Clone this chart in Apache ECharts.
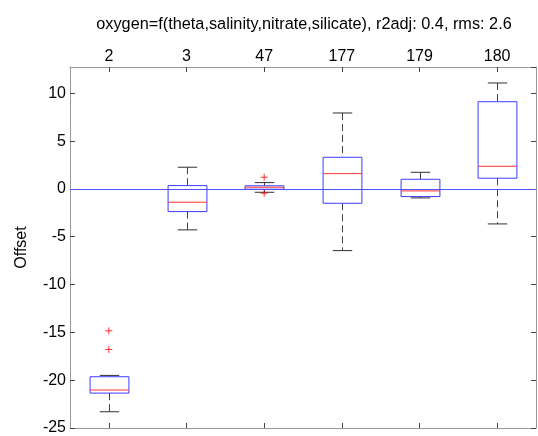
<!DOCTYPE html>
<html>
<head>
<meta charset="utf-8">
<script src="https://cdn.jsdelivr.net/npm/echarts@6/dist/echarts.min.js"></script>
<style>
html, body { margin: 0; padding: 0; background: #fff; }
#chart { width: 538px; height: 436px; }
</style>
</head>
<body>
<div id="chart"></div>
<script>
// 数据
var categories = ['2', '3', '47', '177', '179', '180'];
var whiskerLow  = [-23.3, -4.28, -0.35, -6.45, -0.94, -3.66];
var boxQ1       = [-21.35, -2.37, -0.03, -1.50, -0.80, 1.12];
var boxMedian   = [-21.03, -1.39, 0.18, 1.60, -0.21, 2.37];
var boxQ3       = [-19.64, 0.35, 0.33, 3.31, 1.01, 9.12];
var whiskerHigh = [-19.5, 2.27, 0.66, 7.94, 1.74, 11.08];
var outlierCat  = [0, 0, 2, 2];
var outlierVal  = [-14.84, -16.79, 1.22, -0.45];
var refLine = [0];

var boxData = [];
for (var i = 0; i < categories.length; i++) {
    boxData.push([i, whiskerLow[i], boxQ1[i], boxMedian[i], boxQ3[i], whiskerHigh[i]]);
}
var outlierData = [];
for (var j = 0; j < outlierCat.length; j++) {
    outlierData.push([outlierCat[j], outlierVal[j]]);
}

var FONT = '"Liberation Sans", Arial, sans-serif';
var BLUE = '#3c3cff';

function renderBox(params, api) {
    var x = api.value(0);
    var lo = api.coord([x, api.value(1)]);
    var q1 = api.coord([x, api.value(2)]);
    var md = api.coord([x, api.value(3)]);
    var q3 = api.coord([x, api.value(4)]);
    var hi = api.coord([x, api.value(5)]);
    var band = api.size([1, 0])[0];
    var bw = band * 0.25;   //箱子半宽
    var cw = band * 0.125;  //须端半宽
    var cx = Math.round(lo[0]) + 0.5;
    var whisk = { stroke: '#404040', lineWidth: 1, lineDash: [7, 4] };
    var cap = { stroke: '#303030', lineWidth: 1 };
    return {
        type: 'group',
        children: [
            { type: 'line', shape: { x1: cx, y1: hi[1], x2: cx, y2: q3[1] }, style: whisk },
            { type: 'line', shape: { x1: cx, y1: q1[1], x2: cx, y2: lo[1] }, style: whisk },
            { type: 'line', shape: { x1: cx - cw, y1: hi[1], x2: cx + cw, y2: hi[1] }, style: cap },
            { type: 'line', shape: { x1: cx - cw, y1: lo[1], x2: cx + cw, y2: lo[1] }, style: cap },
            { type: 'rect', shape: { x: cx - bw, y: q3[1], width: bw * 2, height: q1[1] - q3[1] },
              style: { fill: 'none', stroke: BLUE, lineWidth: 1 } },
            { type: 'line', shape: { x1: cx - bw, y1: md[1], x2: cx + bw, y2: md[1] },
              style: { stroke: '#ff3030', lineWidth: 1 } }
        ]
    };
}

// 零线，横跨整个绘图区
function renderZero(params, api) {
    var p = api.coord([0, api.value(0)]);
    var y = Math.round(p[1]) + 0.5;
    return {
        type: 'line',
        shape: { x1: params.coordSys.x, y1: y, x2: params.coordSys.x + params.coordSys.width, y2: y },
        style: { stroke: '#5050ff', lineWidth: 1 }
    };
}

var axisLineStyle = { show: true, onZero: false, lineStyle: { color: '#999', width: 1 } };
var tickStyle = { show: true, inside: true, length: 5, lineStyle: { color: '#444' } };

var myChart = echarts.init(document.getElementById('chart'));
var option = {
    animation: false,
    backgroundColor: '#fff',
    title: {
        text: 'oxygen=f(theta,salinity,nitrate,silicate), r2adj: 0.4, rms: 2.6',
        left: 299,
        top: 12,
        textAlign: 'center',
        textStyle: { fontFamily: FONT, fontSize: 16.3, fontWeight: 'normal', color: '#000' }
    },
    grid: { left: 70, right: 2, top: 67, bottom: 8, containLabel: false },
    xAxis: [{
        type: 'category',
        position: 'top',
        data: categories,
        boundaryGap: true,
        axisLine: { show: true, onZero: false, lineStyle: { color: '#999', width: 1 } },
        axisTick: { show: true, inside: true, alignWithLabel: true, length: 5, lineStyle: { color: '#444' } },
        axisLabel: { fontFamily: FONT, fontSize: 16, color: '#000', margin: 2 },
        splitLine: { show: false }
    }, {
        type: 'category',
        position: 'bottom',
        data: categories,
        boundaryGap: true,
        axisLine: { show: true, onZero: false, lineStyle: { color: '#999', width: 1 } },
        axisTick: { show: true, inside: true, alignWithLabel: true, length: 5, lineStyle: { color: '#444' } },
        axisLabel: { show: false },
        splitLine: { show: false }
    }],
    yAxis: [{
        type: 'value',
        position: 'left',
        min: -25,
        max: 12.75,
        interval: 5,
        name: 'Offset',
        nameLocation: 'middle',
        nameGap: 40,
        nameTextStyle: { fontFamily: FONT, fontSize: 16, color: '#000' },
        axisLine: axisLineStyle,
        axisTick: tickStyle,
        axisLabel: { fontFamily: FONT, fontSize: 16, color: '#000', margin: 4, showMaxLabel: false },
        splitLine: { show: false }
    }, {
        type: 'value',
        position: 'right',
        min: -25,
        max: 12.75,
        interval: 5,
        axisLine: axisLineStyle,
        axisTick: tickStyle,
        axisLabel: { show: false },
        splitLine: { show: false }
    }],
    series: [{
        type: 'custom',
        name: 'zero',
        xAxisIndex: 0,
        yAxisIndex: 0,
        renderItem: renderZero,
        encode: { y: 0 },
        data: refLine.map(function (v) { return [v]; }),
        silent: true,
        z: 10
    }, {
        type: 'custom',
        name: 'box',
        xAxisIndex: 0,
        yAxisIndex: 0,
        renderItem: renderBox,
        encode: { x: 0, y: [1, 2, 3, 4, 5] },
        data: boxData,
        z: 3
    }, {
        type: 'scatter',
        name: 'outliers',
        xAxisIndex: 0,
        yAxisIndex: 0,
        symbol: 'path://M0,4H8M4,0V8',
        symbolSize: 7,
        itemStyle: { color: 'transparent', borderColor: '#ff0000', borderWidth: 1 },
        data: outlierData,
        z: 4
    }]
};
myChart.setOption(option);
</script>
</body>
</html>
